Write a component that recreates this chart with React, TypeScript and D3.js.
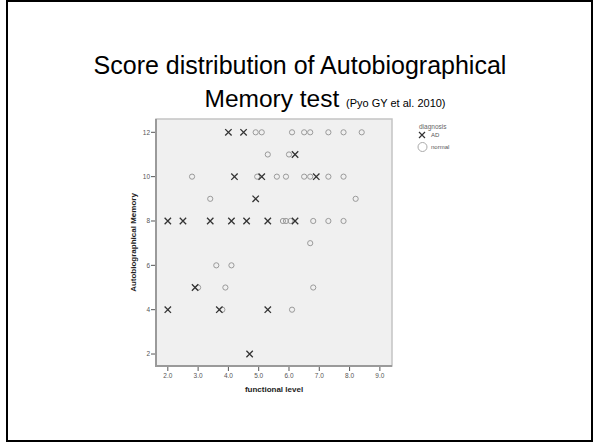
import React, { useEffect, useRef } from "react";
import * as d3 from "d3";

// values (functional level, autobiographical memory score)
const adFunctional = [4.0, 4.5, 6.2, 4.2, 5.1, 6.9, 4.9, 2.0, 2.5, 3.4, 4.1, 4.6, 5.3, 6.2, 2.9, 2.0, 3.7, 5.3, 4.7];
const adMemory = [12, 12, 11, 10, 10, 10, 9, 8, 8, 8, 8, 8, 8, 8, 5, 4, 4, 4, 2];

const normalFunctional = [
  4.9, 5.1, 6.1, 6.5, 6.7, 7.3, 7.8, 8.4,
  5.3, 6.0,
  2.8, 4.95, 5.6, 5.9, 6.5, 6.7, 7.3, 7.8,
  3.4, 8.2,
  5.8, 5.9, 6.05, 6.8, 7.3, 7.8,
  6.7,
  3.6, 4.1,
  3.0, 3.9, 6.8,
  3.8, 6.1,
];
const normalMemory = [
  12, 12, 12, 12, 12, 12, 12, 12,
  11, 11,
  10, 10, 10, 10, 10, 10, 10, 10,
  9, 9,
  8, 8, 8, 8, 8, 8,
  7,
  6, 6,
  5, 5, 5,
  4, 4,
];

const xTicks = [2, 3, 4, 5, 6, 7, 8, 9];
const yTicks = [2, 4, 6, 8, 10, 12];
const legendLabels = ["AD", "normal"];

export default function App() {
  const ref = useRef<SVGSVGElement | null>(null);

  useEffect(() => {
    const svg = d3.select(ref.current);
    svg.selectAll("*").remove();

    const font = "'Liberation Sans', Arial, sans-serif";
    // plot box (the pasted SPSS chart)
    const box = { left: 156, right: 392, top: 119, bottom: 366 };

    const x = d3.scaleLinear().domain([1.61, 9.4]).range([box.left, box.right]);
    const y = d3.scaleLinear().domain([1.46, 12.6]).range([box.bottom, box.top]);

    // slide frame
    svg.append("rect")
      .attr("x", 7).attr("y", 1).attr("width", 585).attr("height", 440)
      .attr("fill", "white").attr("stroke", "black").attr("stroke-width", 2);

    // title
    svg.append("text")
      .attr("x", 300).attr("y", 74)
      .attr("text-anchor", "middle")
      .style("font-family", font).style("font-size", "25px")
      .text("Score distribution of Autobiographical");

    const t2 = svg.append("text")
      .attr("x", 325).attr("y", 107)
      .attr("text-anchor", "middle")
      .style("font-family", font);
    t2.append("tspan").style("font-size", "24.5px").text("Memory test ");
    t2.append("tspan").style("font-size", "11px").text("(Pyo GY et al. 2010)");

    // plot background + borders
    svg.append("rect")
      .attr("x", box.left).attr("y", box.top)
      .attr("width", box.right - box.left).attr("height", box.bottom - box.top)
      .attr("fill", "#f0f0f0").attr("stroke", "#c4c4c4").attr("stroke-width", 1.5);
    svg.append("path")
      .attr("d", `M${box.left},${box.top}V${box.bottom}H${box.right}`)
      .attr("fill", "none").attr("stroke", "#9a9a9a").attr("stroke-width", 2);

    // y axis ticks
    const yAx = svg.append("g");
    yAx.selectAll("line").data(yTicks).join("line")
      .attr("x1", box.left - 5).attr("x2", box.left - 1)
      .attr("y1", (d) => y(d)).attr("y2", (d) => y(d))
      .attr("stroke", "#555").attr("stroke-width", 1);
    yAx.selectAll("text").data(yTicks).join("text")
      .attr("x", box.left - 6).attr("y", (d) => y(d) + 2.3)
      .attr("text-anchor", "end")
      .style("font-family", font).style("font-size", "6.5px").attr("fill", "#555")
      .text((d) => d);

    // x axis ticks
    const xAx = svg.append("g");
    xAx.selectAll("line").data(xTicks).join("line")
      .attr("x1", (d) => x(d)).attr("x2", (d) => x(d))
      .attr("y1", box.bottom + 1).attr("y2", box.bottom + 5)
      .attr("stroke", "#555").attr("stroke-width", 1);
    xAx.selectAll("text").data(xTicks).join("text")
      .attr("x", (d) => x(d)).attr("y", box.bottom + 12)
      .attr("text-anchor", "middle")
      .style("font-family", font).style("font-size", "6.5px").attr("fill", "#555")
      .text((d) => d.toFixed(1));

    // axis titles
    svg.append("text")
      .attr("x", (box.left + box.right) / 2).attr("y", box.bottom + 26)
      .attr("text-anchor", "middle")
      .style("font-family", font).style("font-size", "8px").style("font-weight", "bold")
      .attr("fill", "#222")
      .text("functional level");
    svg.append("text")
      .attr("transform", `translate(136, ${(box.top + box.bottom) / 2}) rotate(-90)`)
      .attr("text-anchor", "middle")
      .style("font-family", font).style("font-size", "8px").style("font-weight", "bold")
      .attr("fill", "#222")
      .text("Autobiographical Memory");

    // normal -> small open circles
    const normal = normalFunctional.map((f, i) => [f, normalMemory[i]]);
    svg.append("g").selectAll("circle").data(normal).join("circle")
      .attr("cx", (d) => x(d[0])).attr("cy", (d) => y(d[1]))
      .attr("r", 2.6)
      .attr("fill", "none").attr("stroke", "#9a9a9a").attr("stroke-width", 1);

    // AD -> crosses
    const ad = adFunctional.map((f, i) => [f, adMemory[i]]);
    const s = 3.2;
    svg.append("g").selectAll("path").data(ad).join("path")
      .attr("d", (d) => {
        const cx = x(d[0]), cy = y(d[1]);
        return `M${cx - s},${cy - s}L${cx + s},${cy + s}M${cx - s},${cy + s}L${cx + s},${cy - s}`;
      })
      .attr("stroke", "#333").attr("stroke-width", 1.3).attr("fill", "none");

    // legend
    const leg = svg.append("g").style("font-family", font);
    leg.append("text").attr("x", 419).attr("y", 129)
      .style("font-size", "6.5px").attr("fill", "#666").text("diagnosis");
    leg.append("path")
      .attr("d", "M419,132L425,138M419,138L425,132")
      .attr("stroke", "#333").attr("stroke-width", 1.2);
    leg.append("circle").attr("cx", 422.5).attr("cy", 147).attr("r", 4.5)
      .attr("fill", "none").attr("stroke", "#aaa").attr("stroke-width", 1);
    leg.selectAll("text.lab").data(legendLabels).join("text")
      .attr("class", "lab")
      .attr("x", 431).attr("y", (d, i) => 137 + i * 12)
      .style("font-size", "6px").attr("fill", "#555")
      .text((d) => d);
  }, []);

  return (
    <div style={{ position: "absolute", left: 0, top: 0 }}>
      <svg ref={ref} width={596} height={444} style={{ display: "block" }} />
    </div>
  );
}
